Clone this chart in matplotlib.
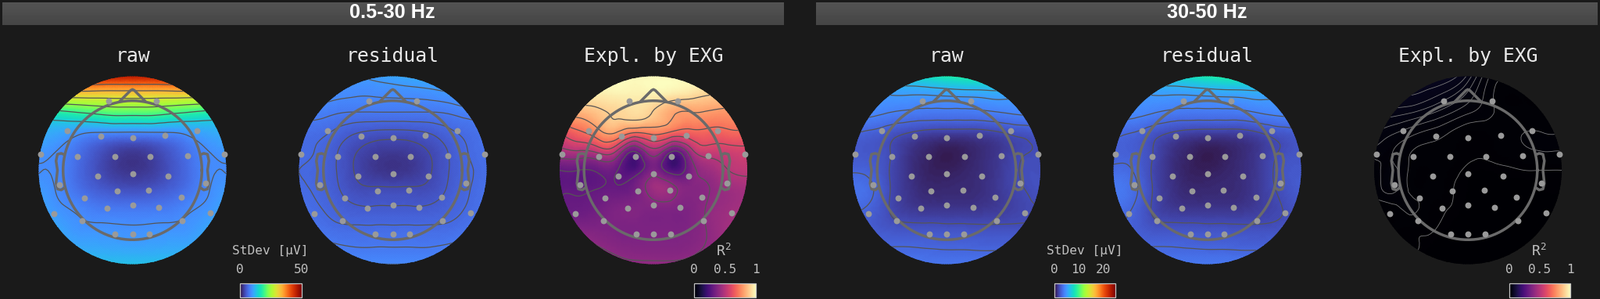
import matplotlib
matplotlib.use("Agg")
import matplotlib.pyplot as plt, matplotlib.tri as mtri, numpy as np
from matplotlib.patches import Circle, Rectangle

W, H = 2047, 382
BG = "#1a1a1a"
plt.rcParams["font.family"] = "DejaVu Sans Mono"
plt.rcParams["mathtext.default"] = "regular"

# sensor layout, head units (rim of the map = 1)
sensor_x = [-.257, .257, -.694, .687, -.340, 0, .347, -.979, .979, -.585, -.188, .188, .585, -.372, 0, .379,
            -.781, .781, -.166, .173, -.513, .517, -.275, 0, .282, -.835, .831, -.535, .531, -.184, 0, .181]
sensor_y = [.737, .737, .418, .424, .362, .343, .368, .174, .168, .146, .143, .146, .151, -.065, -.040, -.060,
            -.151, -.137, -.218, -.215, -.296, -.288, -.404, -.368, -.399, -.460, -.454, -.535, -.535, -.682, -.682, -.682]

grid_x = [-1, -.8, -.6, -.4, -.2, 0, .2, .4, .6, .8, 1]
grid_y = [1, .8, .6, .4, .2, 0, -.2, -.4, -.6, -.8, -1]

# StDev in uV, 0.5-30 Hz
raw_low = [
    [46, 46, 46, 46, 46, 46, 46, 46, 46, 46, 46],
    [31, 31, 31, 31, 31, 31, 31, 31, 31, 31, 31],
    [16.5, 17, 18, 19, 20, 20, 20, 19, 18, 17, 16.5],
    [11.5, 11, 9.8, 8.9, 8.8, 8.7, 8.8, 8.9, 9.8, 11, 11.5],
    [9.9, 8.9, 7, 5, 3.4, 2.8, 3.4, 5, 7, 8.9, 9.9],
    [8.9, 8.6, 6.5, 4.5, 3, 2.5, 3, 4.5, 6.5, 8.6, 8.9],
    [10, 8.8, 7, 5.5, 4.6, 4.3, 4.6, 5.5, 7, 8.8, 10],
    [11, 9.5, 8.6, 7.6, 7.3, 7.2, 7.3, 7.6, 8.6, 9.5, 11],
    [12, 10.8, 9.6, 9.3, 9.2, 9.1, 9.2, 9.3, 9.6, 10.8, 12],
    [12.5, 11.7, 11, 10.8, 10.6, 10.5, 10.6, 10.8, 11, 11.7, 12.5],
    [13, 13, 13, 13, 13, 13, 13, 13, 13, 13, 13],
]
res_low = [
    [9.5, 9.5, 9.6, 9.8, 10.2, 10.7, 11.2, 11.5, 11.5, 11.5, 11.5],
    [9.6, 9.2, 8.9, 8.7, 8.7, 8.8, 8.9, 9.1, 9.5, 10, 10.2],
    [8.2, 7.9, 7.4, 7.2, 7.2, 7.2, 7.2, 7.2, 7.4, 7.9, 8.2],
    [6.6, 6.5, 5.9, 5.1, 4.7, 4.6, 4.7, 5.1, 5.9, 6.5, 7],
    [6.4, 6.1, 5.1, 3.9, 3.1, 2.8, 3.1, 3.9, 5.1, 6.2, 6.8],
    [6.2, 5.9, 5, 3.7, 2.7, 2.4, 2.7, 3.7, 5, 6, 6.6],
    [6.4, 6, 5.2, 4.2, 4, 4, 4, 4.2, 5.2, 6.1, 6.8],
    [6.8, 6.3, 5.7, 5.2, 5.1, 5.1, 5.1, 5.2, 5.7, 6.3, 7],
    [7.6, 6.9, 6.4, 6.3, 6.3, 6.3, 6.3, 6.3, 6.4, 6.9, 7.6],
    [8.2, 7.8, 7.5, 7.3, 7.3, 7.3, 7.3, 7.3, 7.5, 7.8, 8.2],
    [8.6, 8.6, 8.6, 8.6, 8.6, 8.6, 8.6, 8.6, 8.6, 8.6, 8.6],
]
# R2
expl_low = [
    [.99, .99, .99, .99, .99, .99, .99, .99, .99, .99, .99],
    [.96, .96, .96, .97, .97, .97, .95, .93, .90, .88, .86],
    [.82, .83, .87, .91, .93, .89, .81, .79, .78, .77, .76],
    [.60, .68, .76, .80, .70, .73, .68, .67, .67, .68, .68],
    [.47, .49, .52, .50, .30, .46, .30, .46, .55, .56, .57],
    [.30, .30, .31, .31, .25, .36, .25, .36, .44, .50, .52],
    [.29, .29, .30, .31, .34, .44, .42, .38, .40, .44, .46],
    [.30, .31, .33, .36, .37, .37, .37, .37, .41, .44, .47],
    [.36, .36, .36, .36, .36, .36, .36, .37, .41, .45, .47],
    [.42, .42, .40, .38, .37, .37, .37, .38, .41, .45, .47],
    [.46, .46, .44, .42, .41, .41, .41, .42, .44, .46, .48],
]
# StDev in uV, 30-50 Hz
raw_high = [
    [7.2, 7.2, 7.3, 7.5, 8, 8.6, 9, 9, 8.6, 7.8, 7.4],
    [5.2, 5.1, 5, 5, 5, 5.1, 5.2, 5.3, 5.4, 5.3, 5.2],
    [4.4, 4.2, 3.9, 3.7, 3.6, 3.6, 3.6, 3.7, 3.9, 4.1, 4.2],
    [3.1, 2.8, 2.4, 2, 1.7, 1.6, 1.6, 1.7, 2, 2.3, 2.6],
    [2.5, 2.4, 2, 1.2, .7, .4, .6, .95, 1.4, 1.9, 2.1],
    [2.9, 2.7, 1.95, 1.1, .6, .5, .7, 1, 1.5, 2.05, 2.1],
    [3.4, 3.1, 2, 1.2, .8, .8, .85, 1.05, 1.5, 1.95, 2.2],
    [3.1, 2.8, 1.95, 1.4, 1.2, 1.2, 1.2, 1.3, 1.5, 1.8, 2],
    [2.9, 2.6, 2.3, 2.2, 2.2, 2.15, 2.15, 2.1, 2.1, 2.1, 2.1],
    [3, 2.95, 2.95, 2.95, 2.9, 2.85, 2.85, 2.8, 2.8, 2.8, 2.8],
    [3.6, 3.6, 3.6, 3.6, 3.6, 3.6, 3.6, 3.6, 3.6, 3.6, 3.6],
]
res_high = [
    [7.2, 7.2, 7.3, 7.5, 8, 8.6, 9, 9, 8.6, 7.8, 7.4],
    [5.2, 5.1, 5, 5, 5, 5.1, 5.2, 5.3, 5.4, 5.3, 5.2],
    [4.5, 4.3, 4, 3.7, 3.6, 3.6, 3.6, 3.7, 4, 4.2, 4.3],
    [3.3, 3, 2.5, 2, 1.7, 1.6, 1.6, 1.7, 2.1, 2.5, 2.8],
    [2.8, 2.7, 2.1, 1.2, .7, .4, .6, .95, 1.5, 2.1, 2.4],
    [3.2, 3, 2, 1.1, .6, .5, .7, 1, 1.6, 2.3, 2.5],
    [3.7, 3.3, 2.1, 1.2, .8, .8, .85, 1.05, 1.6, 2.2, 2.6],
    [3.4, 3, 2, 1.4, 1.2, 1.2, 1.2, 1.3, 1.6, 2, 2.4],
    [3.1, 2.8, 2.3, 2.2, 2.2, 2.15, 2.15, 2.1, 2.1, 2.2, 2.4],
    [3.2, 3, 2.95, 2.95, 2.9, 2.85, 2.85, 2.8, 2.8, 2.9, 3],
    [3.7, 3.7, 3.7, 3.7, 3.7, 3.7, 3.7, 3.7, 3.7, 3.7, 3.7],
]
expl_high = [
    [.06, .06, .06, .06, .055, .04, .02, .012, .012, .012, .012],
    [.05, .05, .05, .045, .038, .028, .016, .008, .008, .006, .006],
    [.04, .038, .035, .03, .024, .018, .014, .009, .009, .009, .009],
    [.03, .025, .02, .016, .012, .008, .008, .010, .012, .012, .012],
    [.022, .018, .012, .010, .009, .007, .007, .009, .011, .012, .012],
    [.014, .020, .010, .008, .008, .005, .004, .005, .006, .006, .006],
    [.012, .020, .010, .009, .007, .004, .003, .003, .003, .004, .004],
    [.010, .010, .0135, .008, .006, .003, .002, .002, .002, .002, .002],
    [.008, .008, .008, .007, .004, .002, .001, .001, .001, .001, .001],
    [.007, .007, .007, .004, .002, .001, .001, .001, .001, .001, .001],
    [.006, .006, .005, .003, .001, .001, .001, .001, .001, .001, .001],
]

titles = ["raw", "residual", "Expl. by EXG", "raw", "residual", "Expl. by EXG"]
fields = [raw_low, res_low, expl_low, raw_high, res_high, expl_high]
centers = [169.5, 502.5, 836, 1211, 1544.6, 1878]
cmaps = ["turbo", "turbo", "magma", "turbo", "turbo", "magma"]
vmaxes = [50, 50, 1, 25, 25, 1]
levels = [
    [9, 14, 19, 24, 29, 34, 39],
    [3.8, 5, 6.2, 7.4, 8.6, 9.8, 11],
    [.3, .4, .5, .6, .7, .8, .9],
    [2, 3, 4, 5, 6],
    [2, 3, 4, 5, 6],
    [.006, .012, .018, .024, .03, .036, .042, .05],
]
band_names = ["0.5-30 Hz", "30-50 Hz"]
band_spans = [(3, 1002.6), (1044, 2044)]
band_centers = [502, 1544]

fig = plt.figure(figsize=(W / 100, H / 100), dpi=100, facecolor=BG)

def px_axes(x0, y0, x1, y1):
    ax = fig.add_axes([x0 / W, 1 - y1 / H, (x1 - x0) / W, (y1 - y0) / H])
    ax.axis("off")
    return ax

def px_text(x, y, s, **kw):
    fig.text(x / W, 1 - y / H, s, ha="center", va="center", **kw)

def draw_head(ax):
    col = "#6a6a6a"
    t = np.linspace(0, 2 * np.pi, 200)
    ax.plot(.74 * np.cos(t), .74 * np.sin(t), color=col, lw=2.5, zorder=5)
    ax.plot([-.13, -.02, 0, .02, .13], [.74, .85, .86, .85, .74], color=col, lw=2.5, zorder=5, solid_joinstyle="round")
    ear_x = np.array([.735, .76, .80, .815, .80, .815, .80, .76, .73])
    ear_y = [.17, .18, .17, .10, 0, -.14, -.20, -.21, -.19]
    for sign in (-1, 1):
        ax.plot(sign * ear_x, ear_y, color=col, lw=2.5, zorder=5, solid_joinstyle="round")

def draw_topo(cx, title, field, cmap, vmax, lev, thin):
    ax = px_axes(cx - 126, 217.5 - 126, cx + 126, 217.5 + 126)
    ax.set_xlim(-1.05, 1.05); ax.set_ylim(-1.05, 1.05)
    X, Y = np.meshgrid(grid_x, grid_y)
    tri = mtri.Triangulation(X.ravel(), Y.ravel())
    fine, z = mtri.UniformTriRefiner(tri).refine_field(np.array(field).ravel(), subdiv=3)
    rim = Circle((0, 0), 1, transform=ax.transData)
    im = ax.tripcolor(fine, z, shading="gouraud", cmap=cmap, vmin=0, vmax=vmax)
    im.set_clip_path(rim)
    cs = ax.tricontour(fine, z, levels=lev, colors="#7a7a7a" if thin else "#555555", linewidths=.6 if thin else .9)
    cs.set_clip_path(rim)
    draw_head(ax)
    ax.scatter(sensor_x, sensor_y, s=32, color="#9a9a9a", linewidths=0, zorder=6)
    px_text(cx, 72, title, fontsize=17.8, color="#e8e8e8")

def draw_cbar(x0, x1, cmap, vmax, ticks, tick_labels, label, label_x, label_size=11.6):
    ax = px_axes(x0, 362.3, x1, 379.6)
    ax.imshow(np.linspace(0, 1, 256)[None, :], aspect="auto", cmap=cmap, extent=[0, vmax, 0, 1])
    ax.add_patch(Rectangle((0, 0), vmax, 1, fill=False, ec="#c4c4c4", lw=.9, clip_on=False))
    for t, s in zip(ticks, tick_labels):
        px_text(x0 + (x1 - x0) * t / vmax, 344.5, s, fontsize=11.6, color="#c0c0c0")
    px_text(label_x, 321, label, fontsize=label_size, color="#c0c0c0")

for (x0, x1), name, c in zip(band_spans, band_names, band_centers):
    bar = px_axes(x0, 2.7, x1, 32)
    bar.imshow(np.linspace(.33, .27, 30)[:, None], aspect="auto", cmap="gray", vmin=0, vmax=1)
    px_text(c, 16, name, fontsize=18.2, color="white", family="Liberation Sans", weight="bold")

for i in range(6):
    draw_topo(centers[i], titles[i], fields[i], cmaps[i], vmaxes[i], levels[i], i == 5)

draw_cbar(307.3, 385.7, "turbo", 50, [0, 50], ["0", "50"], "StDev [µV]", 346)
draw_cbar(888.3, 966.7, "magma", 1, [0, .5, 1], ["0", "0.5", "1"], "R$^2$", 926, 13)
draw_cbar(1349.3, 1426.7, "turbo", 25, [0, 10, 20], ["0", "10", "20"], "StDev [µV]", 1387.7)
draw_cbar(1930.5, 2008.5, "magma", 1, [0, .5, 1], ["0", "0.5", "1"], "R$^2$", 1969, 13)

fig.savefig("out.png", dpi=100, facecolor=BG)
